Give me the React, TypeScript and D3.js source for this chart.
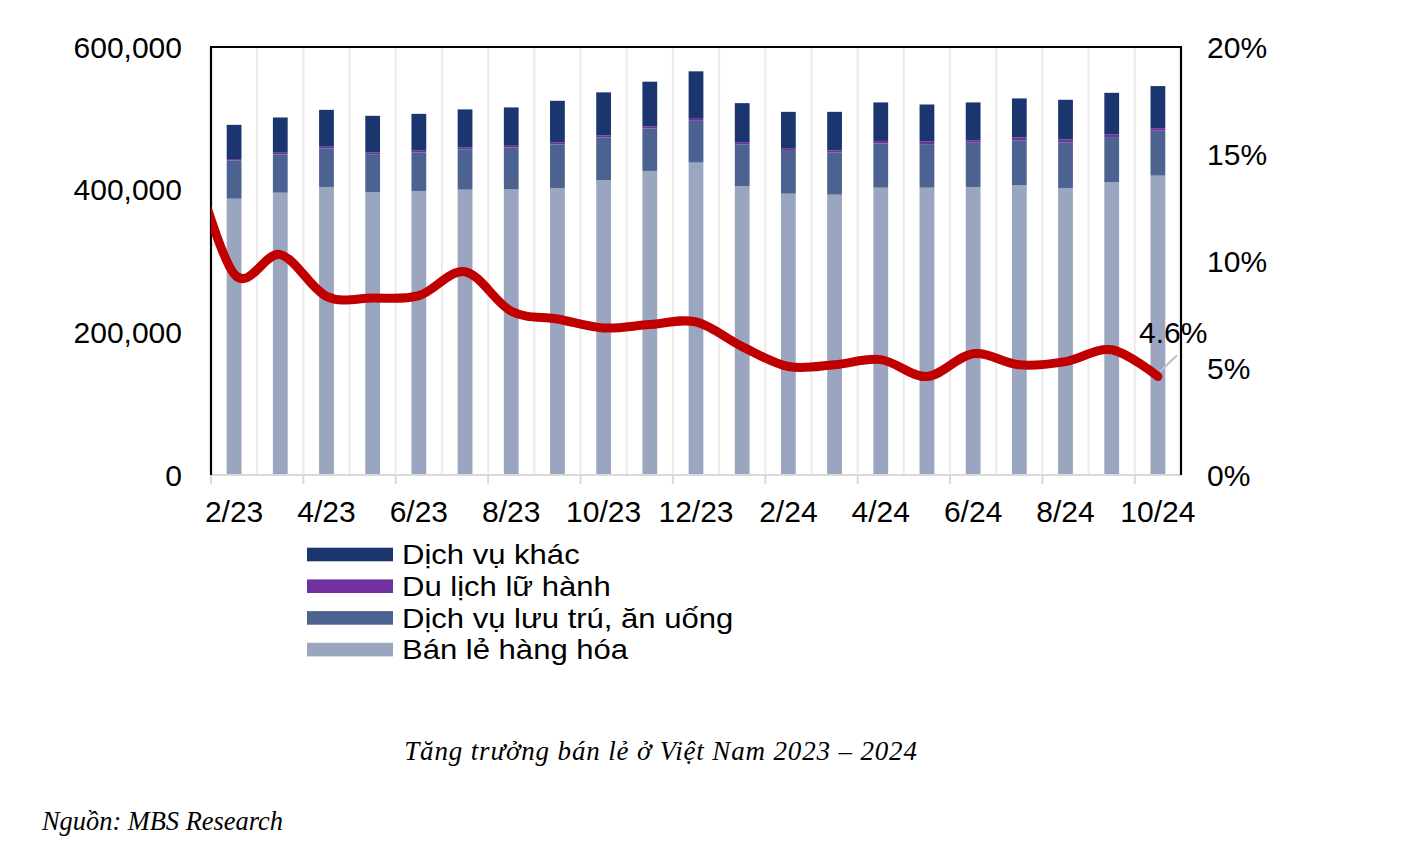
import React, { useMemo } from "react";
import * as d3 from "d3";

// Tổng mức bán lẻ hàng hóa & doanh thu dịch vụ (tỷ đồng) và tăng trưởng YoY
const MONTHS = [
  "2/23", "3/23", "4/23", "5/23", "6/23", "7/23", "8/23", "9/23", "10/23", "11/23", "12/23",
  "1/24", "2/24", "3/24", "4/24", "5/24", "6/24", "7/24", "8/24", "9/24", "10/24",
];

const BAN_LE = [
  387400, 395800, 403800, 396700, 398200, 400100, 400500, 402400, 413200, 426300, 438000,
  405100, 394400, 393000, 402800, 402800, 403800, 406200, 402400, 410700, 419700,
];
const LUU_TRU = [
  53500, 53500, 54000, 53000, 54000, 56500, 58500, 61000, 60000, 59500, 59500,
  58500, 60000, 59000, 62000, 61000, 62000, 63000, 64000, 63000, 63000,
];
const DU_LICH = [
  2000, 2500, 2500, 2500, 2500, 2500, 2500, 3000, 3000, 3000, 3000,
  3000, 3000, 3000, 3500, 3500, 3500, 4000, 4000, 3500, 3500,
];
const DV_KHAC = [
  48000, 49400, 51600, 51300, 51600, 53400, 53800, 58200, 60200, 62600, 65400,
  54700, 51700, 54100, 54000, 52100, 53000, 54700, 55600, 58600, 59000,
];

// tăng trưởng (%), điểm 1/23 nằm ngoài khung và bị cắt
const PREV_GROWTH = 15.5;
const GROWTH = [
  9.4, 10.3, 8.35, 8.27, 8.38, 9.5, 7.65, 7.29, 6.87, 7.03, 7.15,
  6.0, 5.07, 5.15, 5.39, 4.6, 5.67, 5.15, 5.3, 5.85, 4.6,
];

const LEFT_TICKS = [0, 200000, 400000, 600000];
const RIGHT_TICKS = [0, 5, 10, 15, 20];

const SERIES = [
  { key: "banLe", label: "Bán lẻ hàng hóa", color: "#9aa6c0" },
  { key: "luuTru", label: "Dịch vụ lưu trú, ăn uống", color: "#4c6290" },
  { key: "duLich", label: "Du lịch lữ hành", color: "#7030a0" },
  { key: "khac", label: "Dịch vụ khác", color: "#1b356e" },
];
const LEGEND_ORDER = ["khac", "duLich", "luuTru", "banLe"];

const W = 1404;
const H = 854;
const P = { left: 211, right: 1181, top: 47, bottom: 475 };
const FONT = "'Liberation Sans', Arial, Helvetica, sans-serif";
const SERIF = "'Liberation Serif', 'Times New Roman', serif";
const LINE_COLOR = "#c00000";

export default function App() {
  const rows = useMemo(
    () =>
      MONTHS.map((m, i) => ({
        month: m,
        banLe: BAN_LE[i],
        luuTru: LUU_TRU[i],
        duLich: DU_LICH[i],
        khac: DV_KHAC[i],
      })),
    []
  );

  const x = d3.scaleBand<string>().domain(MONTHS).range([P.left, P.right]);
  const step = x.step();
  const barW = step * 0.32;
  const cx = (m: string) => (x(m) ?? 0) + step / 2;

  const yL = d3.scaleLinear().domain([0, 600000]).range([P.bottom, P.top]);
  const yR = d3.scaleLinear().domain([0, 20]).range([P.bottom, P.top]);

  const stacked = d3.stack<any>().keys(SERIES.map((s) => s.key))(rows);

  const linePts: [number, number][] = [
    [cx(MONTHS[0]) - step, yR(PREV_GROWTH)],
    ...MONTHS.map((m, i) => [cx(m), yR(GROWTH[i])] as [number, number]),
  ];
  const linePath = d3.line().curve(d3.curveCatmullRom.alpha(0))(linePts) ?? "";

  const last = MONTHS.length - 1;
  const lastX = cx(MONTHS[last]);
  const lastY = yR(GROWTH[last]);

  const fmt = d3.format(",");

  return (
    <svg
      width={W}
      height={H}
      style={{ position: "absolute", left: 0, top: 0, display: "block", background: "#fff" }}
    >
      <defs>
        <clipPath id="plot-clip">
          <rect x={P.left} y={P.top} width={P.right - P.left} height={P.bottom - P.top} />
        </clipPath>
      </defs>

      {/* vertical gridlines at category boundaries */}
      {MONTHS.slice(1).map((m) => (
        <line
          key={m}
          x1={x(m)} x2={x(m)} y1={P.top} y2={P.bottom}
          stroke="#ebebeb" strokeWidth={2}
        />
      ))}

      {/* stacked bars */}
      {stacked.map((layer, li) => (
        <g key={layer.key} fill={SERIES[li].color}>
          {layer.map((d, i) => (
            <rect
              key={i}
              x={cx(MONTHS[i]) - barW / 2}
              y={yL(d[1])}
              width={barW}
              height={yL(d[0]) - yL(d[1])}
            />
          ))}
        </g>
      ))}

      {/* x axis: light gray line, tick every 2 months */}
      <line x1={P.left} x2={P.right} y1={P.bottom} y2={P.bottom} stroke="#d9d9d9" strokeWidth={2} />
      {MONTHS.map((m, i) =>
        i % 2 === 0 ? (
          <g key={m}>
            <line x1={x(m)} x2={x(m)} y1={P.bottom} y2={P.bottom + 9} stroke="#d9d9d9" strokeWidth={2} />
            <text x={cx(m)} y={522} textAnchor="middle" fontSize={30} fontFamily={FONT} fill="#000">
              {m}
            </text>
          </g>
        ) : null
      )}

      {/* frame: left, top, right in black */}
      <path
        d={`M${P.left},${P.bottom}V${P.top}H${P.right}V${P.bottom}`}
        fill="none" stroke="#000" strokeWidth={2.2}
      />

      {/* left axis labels */}
      {LEFT_TICKS.map((t) => (
        <text
          key={t} x={182} y={yL(t)} dy="0.35em" textAnchor="end"
          fontSize={30} fontFamily={FONT} fill="#000"
        >
          {fmt(t)}
        </text>
      ))}

      {/* right axis labels */}
      {RIGHT_TICKS.map((t) => (
        <text
          key={t} x={1207} y={yR(t)} dy="0.35em" textAnchor="start"
          fontSize={30} fontFamily={FONT} fill="#000"
        >
          {t}%
        </text>
      ))}

      {/* growth line */}
      <path
        d={linePath} fill="none" stroke={LINE_COLOR} strokeWidth={9}
        strokeLinejoin="round" strokeLinecap="round" clipPath="url(#plot-clip)"
      />

      {/* last value label with leader */}
      <line
        x1={lastX + 2} y1={lastY - 5} x2={lastX + 19} y2={lastY - 21}
        stroke="#bfbfbf" strokeWidth={2}
      />
      <text x={1139} y={343} fontSize={30} fontFamily={FONT} fill="#000">
        {GROWTH[last]}%
      </text>

      {/* legend */}
      {LEGEND_ORDER.map((k, i) => {
        const s = SERIES.find((d) => d.key === k)!;
        const cy = 554.5 + i * 31.7;
        return (
          <g key={k}>
            <rect x={307} y={cy - 6.8} width={86} height={13.6} fill={s.color} />
            <text
              transform={`translate(402,${cy}) scale(1.15,1)`}
              dy="0.36em" fontSize={27} fontFamily={FONT} fill="#000"
            >
              {s.label}
            </text>
          </g>
        );
      })}

      {/* caption and source */}
      <text
        x={661} y={760} textAnchor="middle" fontSize={27} letterSpacing={0.85}
        fontFamily={SERIF} fontStyle="italic" fill="#000"
      >
        Tăng trưởng bán lẻ ở Việt Nam 2023 – 2024
      </text>
      <text x={42} y={830} fontSize={26.4} fontFamily={SERIF} fontStyle="italic" fill="#000">
        Nguồn: MBS Research
      </text>
    </svg>
  );
}
